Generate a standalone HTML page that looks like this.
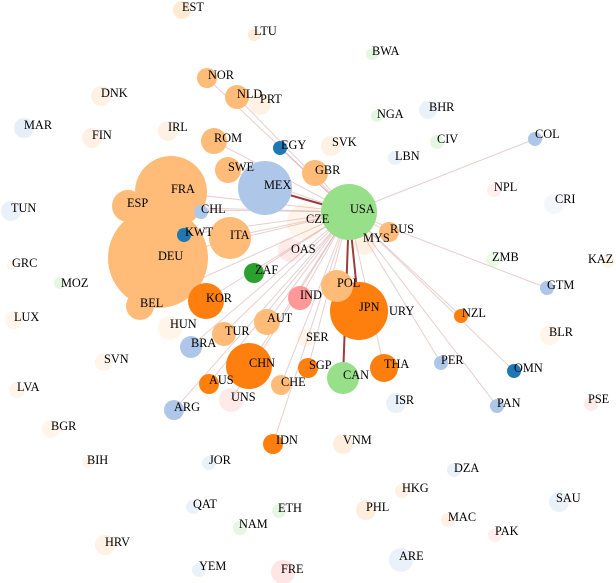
<!DOCTYPE html>
<html><head><meta charset="utf-8"><style>
html,body{margin:0;padding:0;background:#fff;}
svg{display:block;}
text{font-family:"Liberation Serif",serif;font-size:12.3px;fill:#000;}
.e{stroke:#b06060;stroke-opacity:.3;stroke-width:1;}
.E{stroke:#8b1a1a;stroke-opacity:.85;stroke-width:2;}
</style></head><body>
<svg width="616" height="583" viewBox="0 0 616 583" xmlns="http://www.w3.org/2000/svg">
<g>
<line class="e" x1="349" y1="212" x2="207" y2="78"/>
<line class="e" x1="349" y1="212" x2="237" y2="97"/>
<line class="e" x1="349" y1="212" x2="214" y2="141"/>
<line class="e" x1="349" y1="212" x2="280" y2="148"/>
<line class="e" x1="349" y1="212" x2="228" y2="170"/>
<line class="e" x1="349" y1="212" x2="315" y2="172"/>
<line class="E" x1="349" y1="212" x2="265" y2="188"/>
<line class="e" x1="349" y1="212" x2="171" y2="192"/>
<line class="e" x1="349" y1="212" x2="128" y2="206"/>
<line class="e" x1="349" y1="212" x2="201" y2="210"/>
<line class="e" x1="349" y1="212" x2="184" y2="235"/>
<line class="e" x1="349" y1="212" x2="230" y2="237"/>
<line class="e" x1="349" y1="212" x2="158" y2="258"/>
<line class="e" x1="349" y1="212" x2="254" y2="273"/>
<line class="e" x1="349" y1="212" x2="206" y2="300"/>
<line class="e" x1="349" y1="212" x2="300" y2="298"/>
<line class="e" x1="349" y1="212" x2="267" y2="322"/>
<line class="e" x1="349" y1="212" x2="224" y2="333"/>
<line class="e" x1="349" y1="212" x2="191" y2="346"/>
<line class="e" x1="349" y1="212" x2="249" y2="366"/>
<line class="e" x1="349" y1="212" x2="308" y2="368"/>
<line class="E" x1="349" y1="212" x2="343" y2="378"/>
<line class="E" x1="349" y1="212" x2="359" y2="310"/>
<line class="e" x1="349" y1="212" x2="384" y2="367"/>
<line class="e" x1="349" y1="212" x2="281" y2="385"/>
<line class="e" x1="349" y1="212" x2="209" y2="383"/>
<line class="e" x1="349" y1="212" x2="174" y2="410"/>
<line class="e" x1="349" y1="212" x2="273" y2="444"/>
<line class="e" x1="349" y1="212" x2="535" y2="139"/>
<line class="e" x1="349" y1="212" x2="547" y2="288"/>
<line class="e" x1="349" y1="212" x2="461" y2="316"/>
<line class="e" x1="349" y1="212" x2="441" y2="363"/>
<line class="e" x1="349" y1="212" x2="514" y2="371"/>
<line class="e" x1="349" y1="212" x2="497" y2="406"/>
<line class="e" x1="349" y1="212" x2="389" y2="232"/>
<line class="e" x1="349" y1="212" x2="140" y2="306"/>
<line class="e" x1="349" y1="212" x2="231" y2="400"/>
</g>
<g>
<g fill-opacity="0.25">
<circle cx="182" cy="10" r="9" fill="#ffbb78" fill-opacity=".3"/>
<circle cx="254" cy="35" r="6" fill="#ffbb78" fill-opacity=".3"/>
<circle cx="372" cy="54" r="6" fill="#98df8a"/>
<circle cx="260" cy="104" r="11" fill="#ffbb78" fill-opacity=".2"/>
<circle cx="101" cy="96" r="10" fill="#ffbb78" fill-opacity=".2"/>
<circle cx="24" cy="128" r="10" fill="#aec7e8" fill-opacity=".3"/>
<circle cx="92" cy="138" r="10" fill="#ffbb78" fill-opacity=".2"/>
<circle cx="168" cy="131" r="10" fill="#ffbb78" fill-opacity=".2"/>
<circle cx="331" cy="146" r="10" fill="#ffbb78" fill-opacity=".2"/>
<circle cx="377" cy="116" r="6" fill="#98df8a"/>
<circle cx="428" cy="110" r="9" fill="#aec7e8"/>
<circle cx="437" cy="142" r="7" fill="#98df8a"/>
<circle cx="395" cy="158" r="7" fill="#aec7e8"/>
<circle cx="494" cy="190" r="7" fill="#ff9896" fill-opacity=".15"/>
<circle cx="554" cy="204" r="10" fill="#aec7e8" fill-opacity=".15"/>
<circle cx="11" cy="211" r="10" fill="#aec7e8"/>
<circle cx="305" cy="222" r="18" fill="#ffbb78" fill-opacity=".15"/>
<circle cx="365" cy="244" r="11" fill="#ffbb78" fill-opacity=".2"/>
<circle cx="290" cy="250" r="12" fill="#ff9896" fill-opacity=".2"/>
<circle cx="493" cy="260" r="7" fill="#98df8a" fill-opacity=".2"/>
<circle cx="608" cy="261" r="7" fill="#ffbb78" fill-opacity=".15"/>
<circle cx="12" cy="265" r="5" fill="#ffbb78" fill-opacity=".15"/>
<circle cx="60" cy="283" r="6" fill="#98df8a"/>
<circle cx="389" cy="312" r="10" fill="#aec7e8" fill-opacity=".15"/>
<circle cx="550" cy="335" r="10" fill="#ffbb78" fill-opacity=".15"/>
<circle cx="14" cy="320" r="9" fill="#ffbb78" fill-opacity=".15"/>
<circle cx="170" cy="328" r="12" fill="#ffbb78" fill-opacity=".15"/>
<circle cx="104" cy="362" r="9" fill="#ffbb78" fill-opacity=".15"/>
<circle cx="306" cy="338" r="9" fill="#ffbb78" fill-opacity=".15"/>
<circle cx="17" cy="390" r="8" fill="#ffbb78" fill-opacity=".15"/>
<circle cx="231" cy="400" r="12" fill="#ff9896" fill-opacity=".2"/>
<circle cx="396" cy="403" r="10" fill="#aec7e8"/>
<circle cx="591" cy="404" r="7" fill="#ff9896" fill-opacity=".2"/>
<circle cx="51" cy="429" r="9" fill="#ffbb78" fill-opacity=".15"/>
<circle cx="343" cy="444" r="10" fill="#ffbb78" fill-opacity=".25"/>
<circle cx="88" cy="462" r="6" fill="#ffbb78" fill-opacity=".15"/>
<circle cx="209" cy="463" r="7" fill="#aec7e8"/>
<circle cx="454" cy="470" r="7" fill="#aec7e8"/>
<circle cx="402" cy="491" r="7" fill="#ffbb78" fill-opacity=".2"/>
<circle cx="559" cy="502" r="10" fill="#aec7e8"/>
<circle cx="193" cy="507" r="7" fill="#aec7e8"/>
<circle cx="279" cy="511" r="7" fill="#98df8a"/>
<circle cx="366" cy="510" r="10" fill="#ffbb78" fill-opacity=".25"/>
<circle cx="448" cy="520" r="7" fill="#ffbb78" fill-opacity=".2"/>
<circle cx="495" cy="535" r="7" fill="#ff9896" fill-opacity=".15"/>
<circle cx="240" cy="528" r="7" fill="#98df8a"/>
<circle cx="105" cy="545" r="10" fill="#ffbb78" fill-opacity=".2"/>
<circle cx="401" cy="560" r="12" fill="#aec7e8"/>
<circle cx="199" cy="570" r="7" fill="#aec7e8"/>
<circle cx="283" cy="572" r="12" fill="#ff9896" fill-opacity=".25"/>
</g>
<circle cx="207" cy="78" r="10" fill="#ffbb78"/>
<circle cx="237" cy="97" r="12" fill="#ffbb78"/>
<circle cx="214" cy="141" r="13" fill="#ffbb78"/>
<circle cx="280" cy="148" r="7" fill="#1f77b4"/>
<circle cx="228" cy="170" r="13" fill="#ffbb78"/>
<circle cx="315" cy="173" r="13" fill="#ffbb78"/>
<circle cx="171" cy="192" r="36" fill="#ffbb78"/>
<circle cx="128" cy="206" r="16" fill="#ffbb78"/>
<circle cx="158" cy="258" r="50" fill="#ffbb78"/>
<circle cx="140" cy="306" r="14" fill="#ffbb78"/>
<circle cx="201" cy="212" r="7" fill="#aec7e8"/>
<circle cx="184" cy="235" r="7" fill="#1f77b4"/>
<circle cx="230" cy="238" r="21" fill="#ffbb78"/>
<circle cx="265" cy="188" r="27" fill="#aec7e8"/>
<circle cx="349" cy="212" r="28" fill="#98df8a"/>
<circle cx="389" cy="232" r="10" fill="#ffbb78"/>
<circle cx="254" cy="273" r="10" fill="#2ca02c"/>
<circle cx="206" cy="301" r="18" fill="#ff7f0e"/>
<circle cx="300" cy="298" r="12" fill="#ff9896"/>
<circle cx="359" cy="311" r="29" fill="#ff7f0e"/>
<circle cx="337" cy="286" r="16" fill="#ffbb78"/>
<circle cx="267" cy="322" r="13" fill="#ffbb78"/>
<circle cx="224" cy="334" r="12" fill="#ffbb78"/>
<circle cx="191" cy="347" r="11" fill="#aec7e8"/>
<circle cx="249" cy="366" r="23" fill="#ff7f0e"/>
<circle cx="308" cy="368" r="10" fill="#ff7f0e"/>
<circle cx="343" cy="378" r="16" fill="#98df8a"/>
<circle cx="384" cy="368" r="14" fill="#ff7f0e"/>
<circle cx="281" cy="385" r="10" fill="#ffbb78"/>
<circle cx="209" cy="384" r="10" fill="#ff7f0e"/>
<circle cx="174" cy="410" r="10" fill="#aec7e8"/>
<circle cx="273" cy="444" r="10" fill="#ff7f0e"/>
<circle cx="535" cy="139" r="7" fill="#aec7e8"/>
<circle cx="547" cy="288" r="7" fill="#aec7e8"/>
<circle cx="461" cy="316" r="7" fill="#ff7f0e"/>
<circle cx="441" cy="363" r="7" fill="#aec7e8"/>
<circle cx="514" cy="371" r="7" fill="#1f77b4"/>
<circle cx="497" cy="406" r="7" fill="#aec7e8"/>
</g>
<g>
<text x="182" y="11">EST</text><text x="254" y="35">LTU</text><text x="372" y="55">BWA</text>
<text x="208" y="79">NOR</text><text x="237" y="98">NLD</text><text x="260" y="103">PRT</text>
<text x="101" y="97">DNK</text><text x="24" y="129">MAR</text><text x="92" y="139">FIN</text>
<text x="168" y="131">IRL</text><text x="214" y="142">ROM</text><text x="281" y="149">EGY</text>
<text x="332" y="146">SVK</text><text x="377" y="118">NGA</text><text x="429" y="111">BHR</text>
<text x="437" y="143">CIV</text><text x="395" y="160">LBN</text><text x="535" y="138">COL</text>
<text x="494" y="191">NPL</text><text x="555" y="203">CRI</text><text x="11" y="212">TUN</text>
<text x="228" y="171">SWE</text><text x="315" y="174">GBR</text><text x="264" y="189">MEX</text>
<text x="171" y="193">FRA</text><text x="127" y="207">ESP</text><text x="201" y="213">CHL</text>
<text x="350" y="213">USA</text><text x="306" y="223">CZE</text><text x="363" y="242">MYS</text>
<text x="390" y="233">RUS</text><text x="185" y="236">KWT</text><text x="230" y="239">ITA</text>
<text x="158" y="260">DEU</text><text x="291" y="253">OAS</text><text x="255" y="274">ZAF</text>
<text x="492" y="261">ZMB</text><text x="588" y="263">KAZ</text><text x="12" y="267">GRC</text>
<text x="61" y="287">MOZ</text><text x="547" y="289">GTM</text><text x="337" y="287">POL</text>
<text x="300" y="299">IND</text><text x="389" y="315">URY</text><text x="206" y="302">KOR</text>
<text x="140" y="307">BEL</text><text x="359" y="311">JPN</text><text x="462" y="317">NZL</text>
<text x="14" y="321">LUX</text><text x="170" y="328">HUN</text><text x="267" y="322">AUT</text>
<text x="549" y="336">BLR</text><text x="225" y="335">TUR</text><text x="306" y="341">SER</text>
<text x="191" y="347">BRA</text><text x="104" y="363">SVN</text><text x="441" y="364">PER</text>
<text x="249" y="367">CHN</text><text x="309" y="369">SGP</text><text x="384" y="368">THA</text>
<text x="343" y="379">CAN</text><text x="514" y="372">OMN</text><text x="281" y="386">CHE</text>
<text x="209" y="384">AUS</text><text x="17" y="391">LVA</text><text x="231" y="401">UNS</text>
<text x="395" y="404">ISR</text><text x="497" y="407">PAN</text><text x="588" y="403">PSE</text>
<text x="174" y="411">ARG</text><text x="51" y="430">BGR</text><text x="276" y="444">IDN</text>
<text x="343" y="444">VNM</text><text x="87" y="464">BIH</text><text x="209" y="464">JOR</text>
<text x="454" y="472">DZA</text><text x="402" y="492">HKG</text><text x="556" y="502">SAU</text>
<text x="193" y="508">QAT</text><text x="278" y="512">ETH</text><text x="366" y="511">PHL</text>
<text x="448" y="521">MAC</text><text x="495" y="535">PAK</text><text x="239" y="528">NAM</text>
<text x="105" y="546">HRV</text><text x="399" y="560">ARE</text><text x="199" y="570">YEM</text>
<text x="281" y="573">FRE</text>
</g>
</svg>
</body></html>
